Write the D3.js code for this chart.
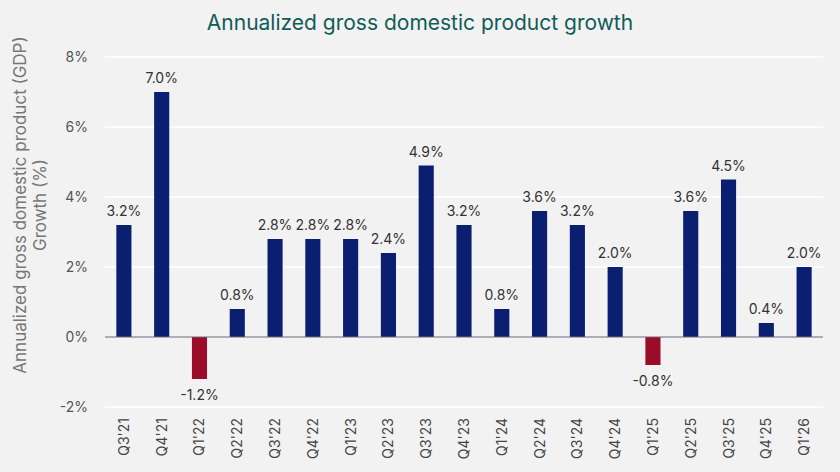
<!DOCTYPE html>
<meta charset="utf-8">
<body style="margin:0;background:#f2f2f2">
<svg></svg>
<script src="https://cdnjs.cloudflare.com/ajax/libs/d3/7.8.5/d3.min.js"></script>
<script>

var quarters = ["Q3'21","Q4'21","Q1'22","Q2'22","Q3'22","Q4'22","Q1'23","Q2'23","Q3'23","Q4'23",
                "Q1'24","Q2'24","Q3'24","Q4'24","Q1'25","Q2'25","Q3'25","Q4'25","Q1'26"];
var growth = [3.2,7.0,-1.2,0.8,2.8,2.8,2.8,2.4,4.9,3.2,0.8,3.6,3.2,2.0,-0.8,3.6,4.5,0.4,2.0];
var yTicks = [-2,0,2,4,6,8];

var width = 840, height = 472;
var margin = {top: 57, right: 17, bottom: 65, left: 105};
var font = "Inter, 'Noto Sans', sans-serif";

var svg = d3.select('svg')
	.attr("width", width)
	.attr("height", height)
	.style("display", "block")
	.style("font-family", font);

svg.append("rect").attr("width", width).attr("height", height).attr("fill", "#f2f2f2");

var x = d3.scaleBand()
	.domain(quarters)
	.range([margin.left, width - margin.right])
	.paddingInner(0.6)
	.paddingOuter(0.3);

var y = d3.scaleLinear()
	.domain([-2, 8])
	.range([height - margin.bottom, margin.top]);

// gridlines
svg.append("g")
	.selectAll("line")
	.data(yTicks.filter(d => d != 0))
	.enter().append("line")
	.attr("x1", margin.left).attr("x2", width - margin.right)
	.attr("y1", d => y(d)).attr("y2", d => y(d))
	.attr("stroke", "#ffffff").attr("stroke-width", 1.5);

// y axis labels
var yAxis = svg.append("g")
	.attr("transform", "translate(" + (margin.left - 14) + ",0)")
	.call(d3.axisLeft(y).tickValues(yTicks).tickFormat(d => d + "%").tickSize(0));
yAxis.select(".domain").remove();
yAxis.selectAll("text")
	.attr("fill", "#555")
	.style("font-size", "14px")
	.style("font-family", font);

// bars
svg.append("g")
	.selectAll("rect")
	.data(growth)
	.enter().append("rect")
	.attr("x", (d, i) => x(quarters[i]))
	.attr("width", x.bandwidth())
	.attr("y", d => y(Math.max(0, d)))
	.attr("height", d => Math.abs(y(d) - y(0)))
	.attr("fill", d => d < 0 ? "#9b0c2b" : "#0b1f70");

// zero line
svg.append("line")
	.attr("x1", margin.left).attr("x2", width - margin.right)
	.attr("y1", y(0)).attr("y2", y(0))
	.attr("stroke", "#6b6b78").attr("stroke-width", 1.2);

// value labels
svg.append("g")
	.selectAll("text")
	.data(growth)
	.enter().append("text")
	.attr("x", (d, i) => x(quarters[i]) + x.bandwidth() / 2)
	.attr("y", d => d < 0 ? y(d) + 21 : y(d) - 9)
	.attr("text-anchor", "middle")
	.attr("fill", "#333")
	.style("font-size", "14px")
	.text(d => d.toFixed(1) + "%");

// x axis labels
svg.append("g")
	.selectAll("text")
	.data(quarters)
	.enter().append("text")
	.attr("transform", d => "translate(" + (x(d) + x.bandwidth() / 2 + 5) + "," + 418 + ") rotate(-90)")
	.attr("text-anchor", "end")
	.attr("fill", "#444")
	.style("font-size", "14px")
	.text(d => d);

// y axis title
var yt = svg.append("text")
	.attr("transform", "translate(26,205) rotate(-90)")
	.attr("text-anchor", "middle")
	.attr("fill", "#777")
	.style("font-size", "17px");
yt.append("tspan").attr("x", 0).attr("dy", 0).text("Annualized gross domestic product (GDP)");
yt.append("tspan").attr("x", 0).attr("dy", 20).text("Growth (%)");

// title
svg.append("text")
	.attr("x", 420).attr("y", 30)
	.attr("text-anchor", "middle")
	.attr("fill", "#105c57")
	.style("font-size", "21px")
	.text("Annualized gross domestic product growth");

</script>
